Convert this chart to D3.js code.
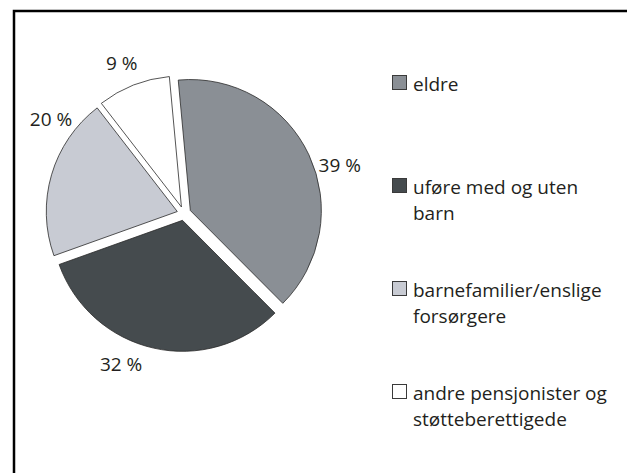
<!DOCTYPE html>
<html>
<head>
<meta charset="utf-8">
<script src="https://cdn.jsdelivr.net/npm/d3@7"></script>
<style>
  body { margin: 0; background: #fff; }
  svg { display: block; }
  text { font-family: "Open Sans", sans-serif; fill: #231f20; }
</style>
</head>
<body>
<div id="chart"></div>
<script>
// shares in percent, clockwise from the top
var categories = ['eldre', 'uføre med og uten barn', 'barnefamilier/enslige forsørgere', 'andre pensjonister og støtteberettigede'];
var legendLines = [['eldre'], ['uføre med og uten', 'barn'], ['barnefamilier/enslige', 'forsørgere'], ['andre pensjonister og', 'støtteberettigede']];
var shares = [39, 32, 20, 9];
var sliceColors = ['#8a8f95', '#454b4e', '#c8cbd3', '#ffffff'];

var w = 627, h = 473;
var cx = 184, cy = 213.5, radius = 131, explode = 7;
var toRad = Math.PI / 180;
var start = -5.3 * toRad;
// small angular shifts for the outside labels (Excel "best fit" look)
var labelShift = [8, 10, 19, -1];
var labelRadius = 163;

var svg = d3.select('#chart').append('svg')
    .attr('width', w).attr('height', h);

// frame (only left and top edges are visible)
svg.append('path')
    .attr('d', 'M14,' + h + 'V11H' + w)
    .attr('fill', 'none')
    .attr('stroke', '#000')
    .attr('stroke-width', 2.5);

var pie = d3.pie()
    .value(function (d) { return d; })
    .sort(null)
    .startAngle(start)
    .endAngle(start + 2 * Math.PI);

var arcs = pie(shares);

var arc = d3.arc()
    .innerRadius(0)
    .outerRadius(radius);

var g = svg.append('g')
    .attr('transform', 'translate(' + cx + ',' + cy + ')');

g.selectAll('path.slice')
    .data(arcs)
    .enter()
    .append('path')
    .attr('class', 'slice')
    .attr('d', arc)
    .attr('transform', function (d) {
        var a = (d.startAngle + d.endAngle) / 2;
        return 'translate(' + (Math.sin(a) * explode) + ',' + (-Math.cos(a) * explode) + ')';
    })
    .attr('fill', function (d, i) { return sliceColors[i]; })
    .attr('stroke', '#2a2a2a')
    .attr('stroke-width', 0.8);

g.selectAll('text.lbl')
    .data(arcs)
    .enter()
    .append('text')
    .attr('class', 'lbl')
    .attr('x', function (d, i) {
        var a = (d.startAngle + d.endAngle) / 2 + labelShift[i] * toRad;
        return Math.sin(a) * labelRadius;
    })
    .attr('y', function (d, i) {
        var a = (d.startAngle + d.endAngle) / 2 + labelShift[i] * toRad;
        return -Math.cos(a) * labelRadius;
    })
    .attr('dy', '0.36em')
    .attr('text-anchor', 'middle')
    .style('font-size', '19px')
    .text(function (d) { return d.data + ' %'; });

// legend
var ly = d3.scaleLinear().domain([0, categories.length - 1]).range([75, 384]);
var legend = svg.selectAll('.legend')
    .data(categories)
    .enter()
    .append('g')
    .attr('class', 'legend')
    .attr('transform', function (d, i) { return 'translate(392,' + ly(i) + ')'; });

legend.append('rect')
    .attr('x', 0.5).attr('y', 0.5)
    .attr('width', 14).attr('height', 14)
    .attr('fill', function (d, i) { return sliceColors[i]; })
    .attr('stroke', '#3a3a3a')
    .attr('stroke-width', 1);

legend.append('text')
    .attr('x', 21)
    .attr('y', 15.5)
    .style('font-size', '19px')
    .selectAll('tspan')
    .data(function (d, i) { return legendLines[i]; })
    .enter()
    .append('tspan')
    .attr('x', 21)
    .attr('dy', function (d, j) { return j === 0 ? 0 : 26.5; })
    .text(function (d) { return d; });
</script>
</body>
</html>
